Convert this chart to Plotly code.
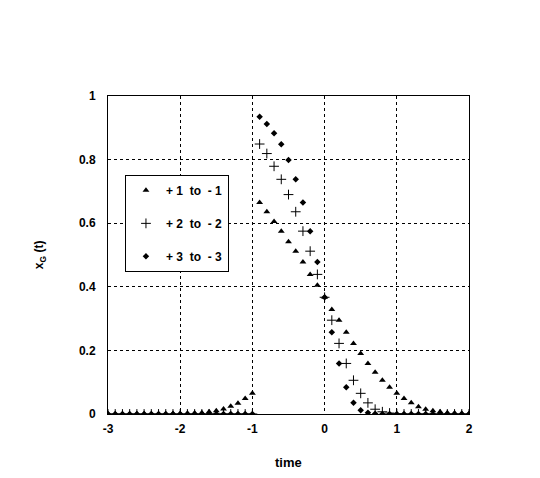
import plotly.graph_objects as go

time = [round(-3 + 0.1 * i, 1) for i in range(51)]

# +1 to -1 (triangles)
pulse1 = [0.000, 0.000, 0.000, 0.000, 0.000, 0.000, 0.000, 0.000, 0.000, 0.001,
          0.001, 0.002, 0.003, 0.004, 0.007, 0.010, 0.016, 0.024, 0.034, 0.049,
          0.065, 0.665, 0.636, 0.605, 0.575, 0.542, 0.512, 0.478, 0.439, 0.405,
          0.367, 0.329, 0.295, 0.257, 0.222, 0.190, 0.159, 0.131, 0.106, 0.084,
          0.065, 0.049, 0.035, 0.023, 0.015, 0.010, 0.007, 0.004, 0.003, 0.002,
          0.001]
# +2 to -2 (plus)
pulse2 = [0.000, 0.000, 0.000, 0.000, 0.000, 0.000, 0.000, 0.000, 0.000, 0.000,
          0.000, 0.000, 0.000, 0.000, 0.000, 0.000, 0.000, 0.000, 0.000, 0.000,
          0.000, 0.849, 0.819, 0.779, 0.738, 0.690, 0.636, 0.575, 0.512, 0.439,
          0.367, 0.295, 0.222, 0.159, 0.106, 0.065, 0.035, 0.015, 0.007, 0.003,
          0.001, 0.000, 0.000, 0.000, 0.000, 0.000, 0.000, 0.000, 0.000, 0.000,
          0.000]
# +3 to -3 (diamonds)
pulse3 = [0.000, 0.000, 0.000, 0.000, 0.000, 0.000, 0.000, 0.000, 0.000, 0.000,
          0.000, 0.000, 0.000, 0.000, 0.000, 0.000, 0.000, 0.000, 0.000, 0.000,
          0.000, 0.935, 0.912, 0.883, 0.848, 0.799, 0.738, 0.665, 0.575, 0.478,
          0.367, 0.257, 0.159, 0.084, 0.035, 0.012, 0.004, 0.001, 0.000, 0.000,
          0.000, 0.000, 0.000, 0.000, 0.000, 0.000, 0.000, 0.000, 0.000, 0.000,
          0.000]

names = ["+ 1\u00a0\u00a0to\u00a0\u00a0- 1", "+ 2\u00a0\u00a0to\u00a0\u00a0- 2", "+ 3\u00a0\u00a0to\u00a0\u00a0- 3"]
x_ticks = [-3, -2, -1, 0, 1, 2]
y_ticks = [0, 0.2, 0.4, 0.6, 0.8, 1]
y_ticktext = ["0", "0.2", "0.4", "0.6", "0.8", "1"]

FONT = "Liberation Sans"

fig = go.Figure()
fig.add_trace(go.Scatter(x=time, y=pulse1, mode="markers", name=names[0], legendgroup="a",
                         marker=dict(symbol="triangle-up", size=6, color="black")))
fig.add_trace(go.Scatter(x=time, y=pulse2, mode="markers", name=names[1], legendgroup="b",
                         marker=dict(symbol="cross-thin", size=7, color="black",
                                     line=dict(width=1, color="black"))))
fig.add_trace(go.Scatter(x=time, y=pulse3, mode="markers", name=names[2], legendgroup="c",
                         marker=dict(symbol="diamond", size=5, color="black")))

axis_common = dict(showgrid=True, gridcolor="black", griddash="dot", gridwidth=1,
                   zeroline=False, showline=True, mirror=True, linecolor="black",
                   linewidth=1, ticks="",
                   tickfont=dict(family=FONT, size=12, color="black", weight="bold"))

fig.update_xaxes(range=[-3, 2], tickvals=x_ticks, ticktext=[str(v) for v in x_ticks],
                 ticklabelstandoff=4, **axis_common)
fig.update_yaxes(range=[0, 1], tickvals=y_ticks, ticktext=y_ticktext,
                 ticklabelstandoff=9, **axis_common)

fig.add_annotation(text="time", xref="paper", yref="paper", x=0.5, y=-0.154,
                   xanchor="center", yanchor="middle",
                   showarrow=False, font=dict(family=FONT, size=13, color="black", weight="bold"))
fig.add_annotation(text="x<sub>G</sub> (t)", xref="paper", yref="paper", x=-0.188, y=0.5,
                   xanchor="center", yanchor="middle",
                   textangle=-90, showarrow=False,
                   font=dict(family=FONT, size=12, color="black", weight="bold"))

# page body has an 8px margin; compensate so plot area lands at 108-469 x 96-414
fig.update_layout(
    width=532, height=470,
    margin=dict(l=100, r=71, t=88, b=64),
    paper_bgcolor="white", plot_bgcolor="white",
    showlegend=True,
    legend=dict(x=0.047, y=0.752, xanchor="left", yanchor="top",
                bgcolor="white", bordercolor="black", borderwidth=1,
                tracegroupgap=14,
                font=dict(family=FONT, size=12, color="black", weight="bold")),
)

fig.write_html("out.html")
